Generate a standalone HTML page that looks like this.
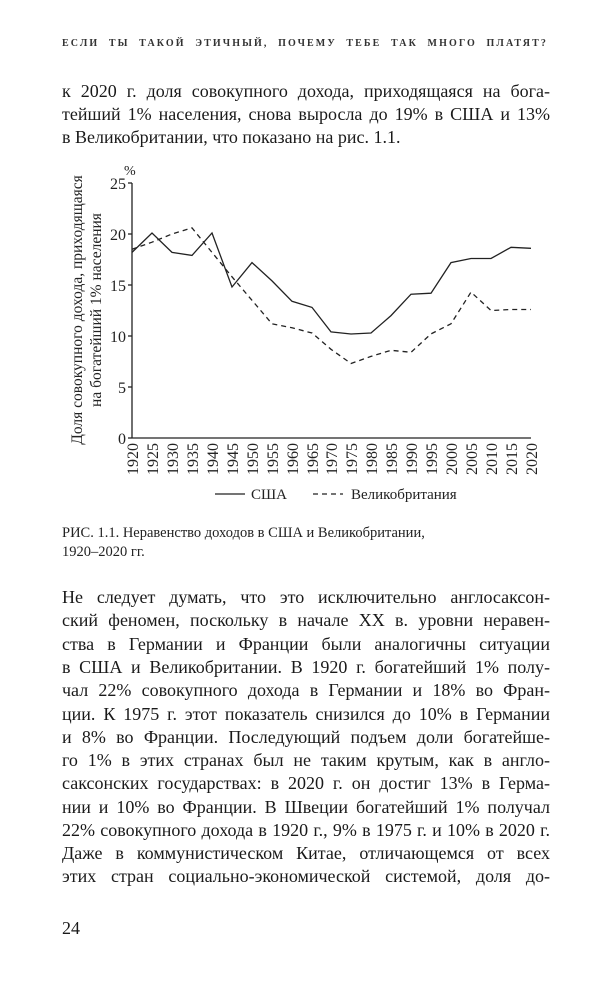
<!DOCTYPE html>
<html><head><meta charset="utf-8"><style>
body{margin:0;width:611px;height:1000px;background:#fff;position:relative;overflow:hidden;font-family:"Liberation Serif","DejaVu Serif",serif;color:#1a1a1a}
.l{position:absolute;left:62px;width:488px;font-size:18px;line-height:23px;white-space:nowrap;text-align:justify;text-align-last:justify}
.nl{text-align-last:left}
.hd{position:absolute;left:62px;width:486px;top:38px;font-size:10px;letter-spacing:2.1px;text-align:justify;text-align-last:justify;white-space:nowrap;font-weight:bold;color:#333}
.cap{position:absolute;left:62px;font-size:14.5px;line-height:18px;white-space:nowrap;color:#222}
</style></head><body>
<div class="hd">ЕСЛИ ТЫ ТАКОЙ ЭТИЧНЫЙ, ПОЧЕМУ ТЕБЕ ТАК МНОГО ПЛАТЯТ?</div>
<div class="l" style="top:80px">к 2020 г. доля совокупного дохода, приходящаяся на бога-</div>
<div class="l" style="top:103px">тейший 1% населения, снова выросла до 19% в США и 13%</div>
<div class="l nl" style="top:126px">в Великобритании, что показано на рис. 1.1.</div>

<svg style="position:absolute;left:0;top:0" width="611" height="520" font-family="Liberation Serif, serif" fill="#222">
<g stroke="#222" stroke-width="1.3" fill="none">
<line x1="132" y1="183" x2="132" y2="438"/>
<line x1="132" y1="438" x2="531" y2="438"/>
<line x1="128" y1="183" x2="132" y2="183"/><line x1="128" y1="234" x2="132" y2="234"/><line x1="128" y1="285" x2="132" y2="285"/><line x1="128" y1="336" x2="132" y2="336"/><line x1="128" y1="387" x2="132" y2="387"/><line x1="128" y1="438" x2="132" y2="438"/>
<polyline points="132,252.4 152,233 172,252.4 192,255.4 212,233 232,287 252,262.6 272,280.9 292,301.3 312,307.4 331,331.9 351,334 371,333 391,315.6 411,294.2 431,293.2 451,262.6 471,258.5 491,258.5 511,247.3 531,248.3"/>
<polyline stroke-dasharray="5,4" points="132,249.3 152,242.2 172,234 192,227.9 212,252.4 232,276.8 252,300.3 272,323.8 292,327.8 312,333 331,349.3 351,363.5 371,356.4 391,350.3 411,352.3 431,333.9 451,323.8 471,292.1 491,310.5 511,309.5 531,309.5"/>
<line x1="215" y1="494" x2="245" y2="494"/>
<line x1="313" y1="494" x2="343" y2="494" stroke-dasharray="5,4"/>
</g>
<g font-size="16" text-anchor="end">
<text x="126" y="189">25</text><text x="126" y="240">20</text><text x="126" y="291">15</text><text x="126" y="342">10</text><text x="126" y="393">5</text><text x="126" y="444">0</text>
</g>
<text x="124" y="175" font-size="14">%</text>
<g font-size="16" text-anchor="end">
<text transform="translate(138,443) rotate(-90)">1920</text>
<text transform="translate(158,443) rotate(-90)">1925</text>
<text transform="translate(178,443) rotate(-90)">1930</text>
<text transform="translate(198,443) rotate(-90)">1935</text>
<text transform="translate(218,443) rotate(-90)">1940</text>
<text transform="translate(238,443) rotate(-90)">1945</text>
<text transform="translate(258,443) rotate(-90)">1950</text>
<text transform="translate(278,443) rotate(-90)">1955</text>
<text transform="translate(298,443) rotate(-90)">1960</text>
<text transform="translate(318,443) rotate(-90)">1965</text>
<text transform="translate(337,443) rotate(-90)">1970</text>
<text transform="translate(357,443) rotate(-90)">1975</text>
<text transform="translate(377,443) rotate(-90)">1980</text>
<text transform="translate(397,443) rotate(-90)">1985</text>
<text transform="translate(417,443) rotate(-90)">1990</text>
<text transform="translate(437,443) rotate(-90)">1995</text>
<text transform="translate(457,443) rotate(-90)">2000</text>
<text transform="translate(477,443) rotate(-90)">2005</text>
<text transform="translate(497,443) rotate(-90)">2010</text>
<text transform="translate(517,443) rotate(-90)">2015</text>
<text transform="translate(537,443) rotate(-90)">2020</text>
</g>
<g font-size="15.5" text-anchor="middle">
<text transform="translate(82,310) rotate(-90)">Доля совокупного дохода, приходящаяся</text>
<text transform="translate(101,310) rotate(-90)">на богатейший 1% населения</text>
</g>
<text x="251" y="499" font-size="15">США</text>
<text x="351" y="499" font-size="15">Великобритания</text>
</svg>

<div class="cap" style="top:524px">РИС. 1.1. Неравенство доходов в США и Великобритании,</div>
<div class="cap" style="top:543px">1920–2020 гг.</div>

<div style="position:absolute;left:0;top:0;width:611px">
<div class="l" style="top:586px">Не следует думать, что это исключительно англосаксон-</div>
<div class="l" style="top:609px">ский феномен, поскольку в начале XX в. уровни неравен-</div>
<div class="l" style="top:633px">ства в Германии и Франции были аналогичны ситуации</div>
<div class="l" style="top:656px">в США и Великобритании. В 1920 г. богатейший 1% полу-</div>
<div class="l" style="top:679px">чал 22% совокупного дохода в Германии и 18% во Фран-</div>
<div class="l" style="top:703px">ции. К 1975 г. этот показатель снизился до 10% в Германии</div>
<div class="l" style="top:726px">и 8% во Франции. Последующий подъем доли богатейше-</div>
<div class="l" style="top:749px">го 1% в этих странах был не таким крутым, как в англо-</div>
<div class="l" style="top:772px">саксонских государствах: в 2020 г. он достиг 13% в Герма-</div>
<div class="l" style="top:796px">нии и 10% во Франции. В Швеции богатейший 1% получал</div>
<div class="l" style="top:819px">22% совокупного дохода в 1920 г., 9% в 1975 г. и 10% в 2020 г.</div>
<div class="l" style="top:842px">Даже в коммунистическом Китае, отличающемся от всех</div>
<div class="l" style="top:865px">этих стран социально-экономической системой, доля до-</div>
<div class="l nl" style="top:917px">24</div>
</div>
</body></html>
